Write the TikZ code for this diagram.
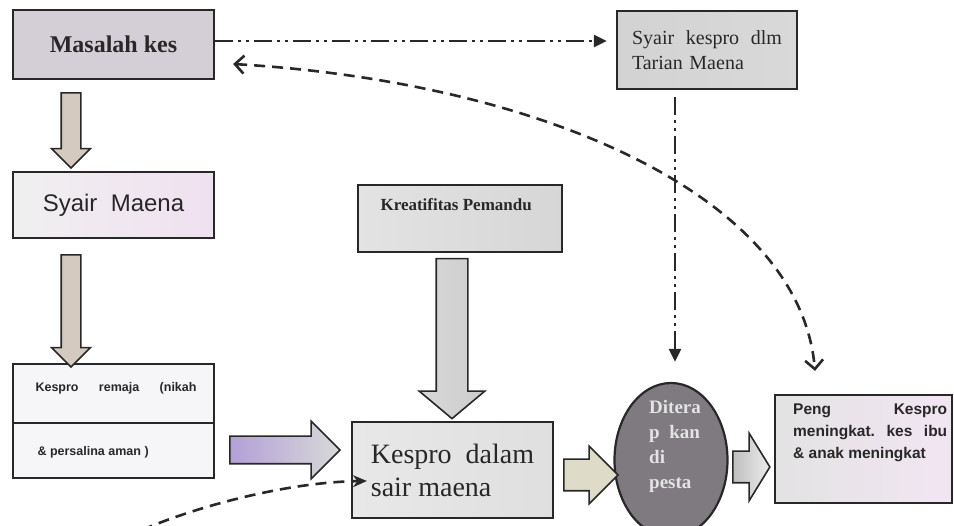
\documentclass[tikz,border=0pt]{standalone}
\usepackage{fontspec}
\setmainfont{Liberation Serif}
\setsansfont{Liberation Sans}
\usetikzlibrary{shapes.geometric,shapes.arrows,arrows.meta}

\definecolor{ink}{RGB}{40,40,40}
\definecolor{greyA}{RGB}{212,206,214}
\definecolor{midA}{RGB}{222,220,224}
\definecolor{pinkA}{RGB}{228,205,228}
\definecolor{paleA}{RGB}{240,238,244}
\definecolor{tanA}{RGB}{212,202,192}
\definecolor{lilacA}{RGB}{178,160,215}
\definecolor{ellgray}{RGB}{126,122,128}

\tikzset{
  box/.style={rectangle, draw=ink, line width=2.2pt, inner sep=0pt, text=ink},
  bigarrow/.style={single arrow, draw=ink, line width=1.6pt, inner sep=0pt, minimum width=1pt},
  dashdotdot/.style={ink, line width=2.6pt, dash pattern=on 18pt off 5pt on 3pt off 5pt on 3pt off 5pt},
  dashcurve/.style={ink, line width=2.6pt, dash pattern=on 11pt off 7pt},
}

\begin{document}
\begin{tikzpicture}[x=1pt, y=-1pt]
    \useasboundingbox (0,0) rectangle (954,526);
    % Boxes
    \node [box, minimum width=201pt, minimum height=69pt, left color=greyA, middle color=midA, right color=greyA,
           font=\bfseries\fontsize{24}{28}\selectfont] (masalah) at (113.5,44.5) {Masalah kes};
    \node [box, minimum width=180pt, minimum height=78pt, left color=gray!35, middle color=violet!18!gray!28, right color=gray!30,
           text width=150pt, align=left, font=\fontsize{20}{25}\selectfont] (syairtarian) at (707,50)
           {Syair\hfill kespro\hfill dlm\\Tarian Maena};
    \node [box, minimum width=201pt, minimum height=66pt, left color=gray!12, middle color=white, right color=violet!12,
           font=\sffamily\fontsize{24}{28}\selectfont] (syairmaena) at (113.5,205) {Syair\ \ Maena};
    \node [box, minimum width=201pt, minimum height=114pt, fill=paleA!60] (remaja) at (113.5,421) {};
    \draw [ink, line width=2.2pt] (remaja.west |- 0,423) -- (remaja.east |- 0,423);
    \node [anchor=west, text=ink, text width=161pt, font=\sffamily\bfseries\fontsize{12.5}{14}\selectfont] (remajatop) at (32,388)
           {Kespro\hfill remaja\hfill (nikah};
    \node [anchor=west, text=ink, font=\sffamily\bfseries\fontsize{12.5}{14}\selectfont] (remajabot) at (34,452) {\& persalina aman )};
    \node [box, minimum width=204pt, minimum height=67pt, left color=gray!22, middle color=violet!12!gray!20, right color=gray!32] (kreatif) at (460,218.5) {};
    \node [anchor=west, text=ink, font=\bfseries\fontsize{17}{20}\selectfont] (kreatiftext) at (377,205) {Kreatifitas Pemandu};
    \node [box, minimum width=201pt, minimum height=96pt, left color=gray!18, middle color=violet!12, right color=gray!25,
           align=left, font=\fontsize{28}{33}\selectfont] (dalam) at (452.5,470) {Kespro\ \ dalam\\sair maena};
    \node [ellipse, draw=ink, line width=2.2pt, fill=ellgray, minimum width=113pt, minimum height=154pt] (pesta) at (671,460) {};
    \node [anchor=north west, align=left, text=gray!22, inner sep=0pt, font=\bfseries\fontsize{19}{25}\selectfont] (pestatext) at (649,400)
           {Ditera\\p\ \ kan\\di\\pesta};
    \node [box, minimum width=177pt, minimum height=108pt, left color=gray!22, middle color=white, right color=violet!10] (peng) at (863.5,449) {};
    \node [anchor=north west, text=ink, text width=154pt, align=justify, inner sep=0pt,
           font=\sffamily\bfseries\fontsize{15.5}{22}\selectfont] (pengtext) at (793,404)
           {Peng\hfill Kespro\\ meningkat.\hfill kes\hfill ibu\\ \& anak meningkat};
    % Block arrows
    \node [bigarrow, rotate=-90, minimum height=75pt, inner ysep=9pt, single arrow head extend=9.5pt, fill=tanA] (a1) at (71,125.5) {};
    \node [bigarrow, rotate=-90, minimum height=112pt, inner ysep=9pt, single arrow head extend=9.5pt, fill=tanA] (a2) at (71,306) {};
    \node [bigarrow, minimum height=110pt, inner ysep=13pt, single arrow head extend=15pt,
           left color=lilacA, middle color=pinkA, right color=gray!30] (a3) at (278,450) {};
    \node [bigarrow, rotate=-90, minimum height=160pt, inner ysep=15pt, single arrow head extend=17pt, single arrow tip angle=100,
           left color=gray!30, middle color=violet!12!gray!25, right color=gray!40] (a4) at (452,332) {};
    \node [bigarrow, minimum height=54pt, inner ysep=15pt, single arrow head extend=13pt, fill={rgb,255:red,222;green,220;blue,200}] (a5) at (583,475) {};
    \node [bigarrow, minimum height=37pt, inner ysep=15pt, single arrow head extend=18pt, single arrow tip angle=117,
           left color=gray!50, right color=gray!15] (a6) at (746.5,467) {};
    % Dash dot lines
    \draw [dashdotdot, -{Triangle[length=13pt,width=12pt]}, shorten >=9pt]
        ([yshift=3.5pt]masalah.east) -- ([yshift=3.5pt]masalah.east -| syairtarian.west);
    \draw [dashdotdot, -{Triangle[length=13pt,width=12pt]}, shorten <=7pt, shorten >=20pt]
        ([xshift=-32pt]syairtarian.south) -- ([xshift=-32pt]syairtarian.south |- pesta.north);
    % Dashed curves
    \draw [dashcurve, {Straight Barb[length=9pt,width=18pt]}-{Straight Barb[length=9pt,width=18pt]}]
        ([xshift=18pt,yshift=-19.5pt]masalah.east) .. controls (540,82) and (800,195) .. ([xshift=-48.5pt,yshift=23pt]peng.north);
    \coordinate (lowstart) at (142,530);
    \draw [dashcurve, -{Stealth[length=14pt,width=12pt]}]
        (lowstart) .. controls (200,505) and (290,482) .. ([xshift=16pt,yshift=-11pt]dalam.west);
\end{tikzpicture}
\end{document}
